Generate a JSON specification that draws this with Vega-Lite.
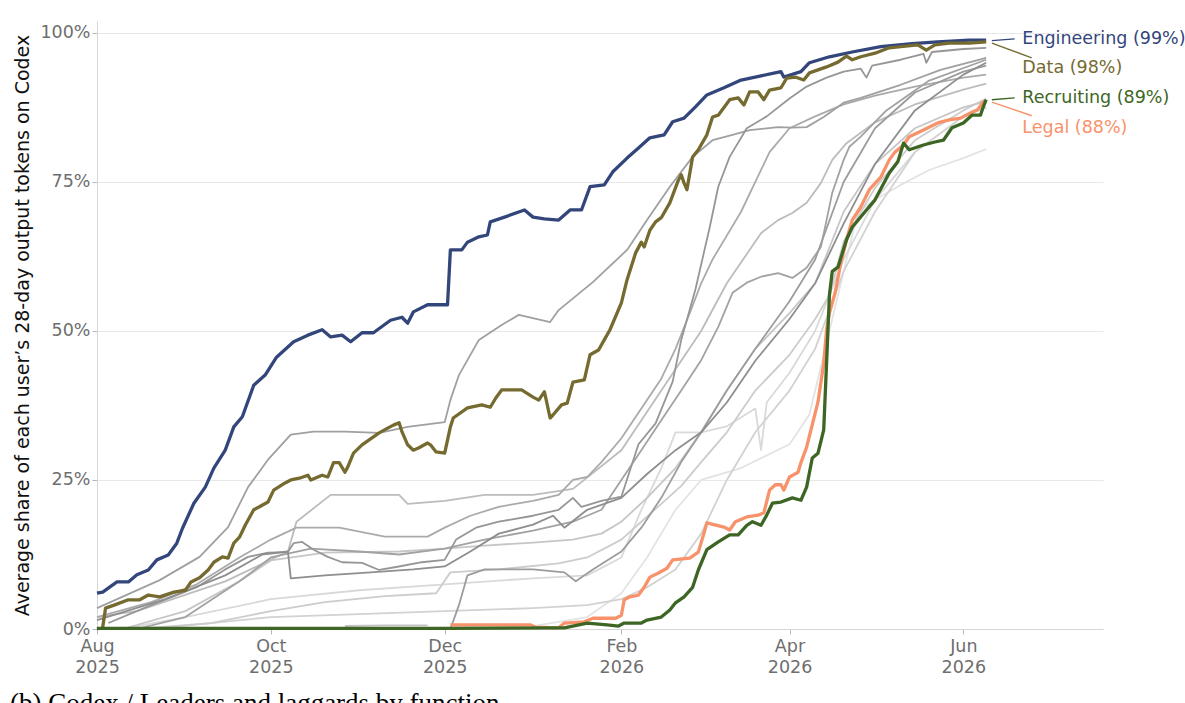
{
  "$schema": "https://vega.github.io/schema/vega-lite/v6.json",
  "autosize": "none",
  "width": 1006,
  "height": 608,
  "padding": {"left": 97, "top": 21, "right": 82, "bottom": 74},
  "background": "white",
  "title": {
    "text": "(b) Codex / Leaders and laggards by function",
    "orient": "bottom",
    "anchor": "start",
    "frame": "group",
    "dx": -87,
    "offset": 15,
    "baseline": "top",
    "font": "Liberation Serif",
    "fontSize": 27,
    "fontWeight": "normal",
    "color": "black"
  },
  "datasets": {
    "lines": [
      {"s":"g13","d":"2025-10-27","v":0.005},{"s":"g13","d":"2025-11-10","v":0.006},{"s":"g13","d":"2025-11-25","v":0.006},

      {"s":"g10","d":"2025-12-05","v":0.0},{"s":"g10","d":"2026-01-01","v":0.005},{"s":"g10","d":"2026-01-20","v":0.02},{"s":"g10","d":"2026-02-01","v":0.06},{"s":"g10","d":"2026-02-10","v":0.12},{"s":"g10","d":"2026-02-20","v":0.2},{"s":"g10","d":"2026-03-01","v":0.25},{"s":"g10","d":"2026-03-15","v":0.27},{"s":"g10","d":"2026-04-01","v":0.31},{"s":"g10","d":"2026-04-08","v":0.36},{"s":"g10","d":"2026-04-15","v":0.5},{"s":"g10","d":"2026-04-20","v":0.6},{"s":"g10","d":"2026-04-25","v":0.7},{"s":"g10","d":"2026-05-01","v":0.72},{"s":"g10","d":"2026-05-10","v":0.745},{"s":"g10","d":"2026-05-20","v":0.77},{"s":"g10","d":"2026-06-01","v":0.79},{"s":"g10","d":"2026-06-09","v":0.805},

      {"s":"g9","d":"2025-08-10","v":0.0},{"s":"g9","d":"2025-09-01","v":0.02},{"s":"g9","d":"2025-10-01","v":0.05},{"s":"g9","d":"2025-11-01","v":0.065},{"s":"g9","d":"2025-12-01","v":0.075},{"s":"g9","d":"2026-01-01","v":0.085},{"s":"g9","d":"2026-01-20","v":0.09},{"s":"g9","d":"2026-02-01","v":0.12},{"s":"g9","d":"2026-02-08","v":0.2},{"s":"g9","d":"2026-02-15","v":0.27},{"s":"g9","d":"2026-02-20","v":0.33},{"s":"g9","d":"2026-03-01","v":0.33},{"s":"g9","d":"2026-03-10","v":0.34},{"s":"g9","d":"2026-03-20","v":0.37},{"s":"g9","d":"2026-03-22","v":0.3},{"s":"g9","d":"2026-03-24","v":0.38},{"s":"g9","d":"2026-04-01","v":0.43},{"s":"g9","d":"2026-04-10","v":0.5},{"s":"g9","d":"2026-04-20","v":0.62},{"s":"g9","d":"2026-05-01","v":0.72},{"s":"g9","d":"2026-05-15","v":0.8},{"s":"g9","d":"2026-06-01","v":0.86},{"s":"g9","d":"2026-06-09","v":0.875},

      {"s":"g12","d":"2025-08-20","v":0.0},{"s":"g12","d":"2025-09-10","v":0.01},{"s":"g12","d":"2025-10-01","v":0.02},{"s":"g12","d":"2025-11-01","v":0.025},{"s":"g12","d":"2025-12-01","v":0.03},{"s":"g12","d":"2026-01-01","v":0.035},{"s":"g12","d":"2026-01-20","v":0.04},{"s":"g12","d":"2026-02-01","v":0.05},{"s":"g12","d":"2026-02-10","v":0.07},{"s":"g12","d":"2026-02-20","v":0.1},{"s":"g12","d":"2026-03-01","v":0.16},{"s":"g12","d":"2026-03-10","v":0.25},{"s":"g12","d":"2026-03-20","v":0.33},{"s":"g12","d":"2026-04-01","v":0.4},{"s":"g12","d":"2026-04-10","v":0.47},{"s":"g12","d":"2026-04-20","v":0.6},{"s":"g12","d":"2026-05-01","v":0.7},{"s":"g12","d":"2026-05-15","v":0.8},{"s":"g12","d":"2026-06-01","v":0.86},{"s":"g12","d":"2026-06-09","v":0.875},

      {"s":"g8","d":"2025-08-15","v":0.0},{"s":"g8","d":"2025-09-10","v":0.01},{"s":"g8","d":"2025-10-01","v":0.03},{"s":"g8","d":"2025-10-20","v":0.045},{"s":"g8","d":"2025-11-10","v":0.055},{"s":"g8","d":"2025-11-28","v":0.06},{"s":"g8","d":"2025-12-03","v":0.095},{"s":"g8","d":"2025-12-20","v":0.1},{"s":"g8","d":"2026-01-10","v":0.11},{"s":"g8","d":"2026-01-20","v":0.12},{"s":"g8","d":"2026-02-01","v":0.15},{"s":"g8","d":"2026-02-08","v":0.18},{"s":"g8","d":"2026-02-15","v":0.21},{"s":"g8","d":"2026-02-22","v":0.24},{"s":"g8","d":"2026-03-01","v":0.28},{"s":"g8","d":"2026-03-10","v":0.33},{"s":"g8","d":"2026-03-20","v":0.4},{"s":"g8","d":"2026-04-01","v":0.46},{"s":"g8","d":"2026-04-10","v":0.52},{"s":"g8","d":"2026-04-15","v":0.56},{"s":"g8","d":"2026-04-20","v":0.65},{"s":"g8","d":"2026-05-01","v":0.74},{"s":"g8","d":"2026-05-15","v":0.82},{"s":"g8","d":"2026-06-01","v":0.87},{"s":"g8","d":"2026-06-09","v":0.89},

      {"s":"g7","d":"2025-08-10","v":0.0},{"s":"g7","d":"2025-09-01","v":0.03},{"s":"g7","d":"2025-09-20","v":0.08},{"s":"g7","d":"2025-10-01","v":0.115},{"s":"g7","d":"2025-10-20","v":0.128},{"s":"g7","d":"2025-11-15","v":0.13},{"s":"g7","d":"2025-12-01","v":0.135},{"s":"g7","d":"2025-12-15","v":0.14},{"s":"g7","d":"2026-01-01","v":0.145},{"s":"g7","d":"2026-01-15","v":0.15},{"s":"g7","d":"2026-01-25","v":0.16},{"s":"g7","d":"2026-02-01","v":0.18},{"s":"g7","d":"2026-02-10","v":0.22},{"s":"g7","d":"2026-02-20","v":0.27},{"s":"g7","d":"2026-03-01","v":0.33},{"s":"g7","d":"2026-03-10","v":0.4},{"s":"g7","d":"2026-03-20","v":0.47},{"s":"g7","d":"2026-04-01","v":0.53},{"s":"g7","d":"2026-04-10","v":0.58},{"s":"g7","d":"2026-04-20","v":0.7},{"s":"g7","d":"2026-05-01","v":0.78},{"s":"g7","d":"2026-05-15","v":0.84},{"s":"g7","d":"2026-06-01","v":0.875},{"s":"g7","d":"2026-06-09","v":0.885},

      {"s":"g4","d":"2025-08-01","v":0.02},{"s":"g4","d":"2025-08-15","v":0.03},{"s":"g4","d":"2025-09-15","v":0.08},{"s":"g4","d":"2025-10-07","v":0.13},{"s":"g4","d":"2025-10-10","v":0.18},{"s":"g4","d":"2025-10-22","v":0.225},{"s":"g4","d":"2025-11-15","v":0.225},{"s":"g4","d":"2025-11-18","v":0.21},{"s":"g4","d":"2025-12-01","v":0.215},{"s":"g4","d":"2025-12-15","v":0.225},{"s":"g4","d":"2026-01-01","v":0.225},{"s":"g4","d":"2026-01-15","v":0.235},{"s":"g4","d":"2026-02-01","v":0.3},{"s":"g4","d":"2026-02-15","v":0.4},{"s":"g4","d":"2026-03-01","v":0.5},{"s":"g4","d":"2026-03-10","v":0.58},{"s":"g4","d":"2026-03-22","v":0.664},{"s":"g4","d":"2026-03-28","v":0.686},{"s":"g4","d":"2026-04-02","v":0.698},{"s":"g4","d":"2026-04-07","v":0.715},{"s":"g4","d":"2026-04-12","v":0.748},{"s":"g4","d":"2026-04-16","v":0.787},{"s":"g4","d":"2026-04-21","v":0.815},{"s":"g4","d":"2026-05-01","v":0.85},{"s":"g4","d":"2026-05-15","v":0.88},{"s":"g4","d":"2026-06-01","v":0.905},{"s":"g4","d":"2026-06-09","v":0.915},

      {"s":"g6","d":"2025-08-01","v":0.02},{"s":"g6","d":"2025-08-20","v":0.045},{"s":"g6","d":"2025-09-05","v":0.075},{"s":"g6","d":"2025-09-20","v":0.12},{"s":"g6","d":"2025-10-01","v":0.15},{"s":"g6","d":"2025-10-10","v":0.17},{"s":"g6","d":"2025-10-25","v":0.17},{"s":"g6","d":"2025-11-10","v":0.155},{"s":"g6","d":"2025-11-25","v":0.155},{"s":"g6","d":"2025-12-01","v":0.17},{"s":"g6","d":"2025-12-10","v":0.19},{"s":"g6","d":"2025-12-20","v":0.205},{"s":"g6","d":"2026-01-01","v":0.215},{"s":"g6","d":"2026-01-10","v":0.225},{"s":"g6","d":"2026-01-15","v":0.25},{"s":"g6","d":"2026-01-20","v":0.255},{"s":"g6","d":"2026-01-25","v":0.28},{"s":"g6","d":"2026-02-01","v":0.32},{"s":"g6","d":"2026-02-08","v":0.37},{"s":"g6","d":"2026-02-15","v":0.42},{"s":"g6","d":"2026-02-20","v":0.47},{"s":"g6","d":"2026-02-25","v":0.53},{"s":"g6","d":"2026-03-01","v":0.58},{"s":"g6","d":"2026-03-05","v":0.62},{"s":"g6","d":"2026-03-10","v":0.66},{"s":"g6","d":"2026-03-15","v":0.7},{"s":"g6","d":"2026-03-20","v":0.75},{"s":"g6","d":"2026-03-25","v":0.8},{"s":"g6","d":"2026-04-01","v":0.84},{"s":"g6","d":"2026-04-10","v":0.86},{"s":"g6","d":"2026-04-20","v":0.88},{"s":"g6","d":"2026-05-01","v":0.895},{"s":"g6","d":"2026-05-15","v":0.91},{"s":"g6","d":"2026-06-01","v":0.925},{"s":"g6","d":"2026-06-09","v":0.93},

      {"s":"g3","d":"2025-08-15","v":0.0},{"s":"g3","d":"2025-09-01","v":0.02},{"s":"g3","d":"2025-09-20","v":0.08},{"s":"g3","d":"2025-10-01","v":0.12},{"s":"g3","d":"2025-10-15","v":0.135},{"s":"g3","d":"2025-11-01","v":0.13},{"s":"g3","d":"2025-11-15","v":0.125},{"s":"g3","d":"2025-12-01","v":0.135},{"s":"g3","d":"2025-12-15","v":0.15},{"s":"g3","d":"2026-01-01","v":0.165},{"s":"g3","d":"2026-01-15","v":0.18},{"s":"g3","d":"2026-01-25","v":0.2},{"s":"g3","d":"2026-02-01","v":0.25},{"s":"g3","d":"2026-02-08","v":0.3},{"s":"g3","d":"2026-02-15","v":0.35},{"s":"g3","d":"2026-02-22","v":0.4},{"s":"g3","d":"2026-03-01","v":0.451},{"s":"g3","d":"2026-03-07","v":0.507},{"s":"g3","d":"2026-03-12","v":0.564},{"s":"g3","d":"2026-03-17","v":0.581},{"s":"g3","d":"2026-03-22","v":0.591},{"s":"g3","d":"2026-03-28","v":0.597},{"s":"g3","d":"2026-04-02","v":0.589},{"s":"g3","d":"2026-04-07","v":0.606},{"s":"g3","d":"2026-04-12","v":0.641},{"s":"g3","d":"2026-04-14","v":0.686},{"s":"g3","d":"2026-04-16","v":0.732},{"s":"g3","d":"2026-04-20","v":0.787},{"s":"g3","d":"2026-04-22","v":0.809},{"s":"g3","d":"2026-04-26","v":0.826},{"s":"g3","d":"2026-05-05","v":0.87},{"s":"g3","d":"2026-05-20","v":0.92},{"s":"g3","d":"2026-06-09","v":0.955},

      {"s":"g1","d":"2025-08-01","v":0.035},{"s":"g1","d":"2025-08-23","v":0.082},{"s":"g1","d":"2025-09-06","v":0.121},{"s":"g1","d":"2025-09-16","v":0.171},{"s":"g1","d":"2025-09-23","v":0.238},{"s":"g1","d":"2025-09-30","v":0.284},{"s":"g1","d":"2025-10-08","v":0.326},{"s":"g1","d":"2025-10-16","v":0.331},{"s":"g1","d":"2025-10-27","v":0.331},{"s":"g1","d":"2025-11-08","v":0.329},{"s":"g1","d":"2025-11-18","v":0.339},{"s":"g1","d":"2025-12-01","v":0.347},{"s":"g1","d":"2025-12-03","v":0.384},{"s":"g1","d":"2025-12-06","v":0.426},{"s":"g1","d":"2025-12-13","v":0.485},{"s":"g1","d":"2025-12-21","v":0.51},{"s":"g1","d":"2025-12-27","v":0.527},{"s":"g1","d":"2026-01-07","v":0.515},{"s":"g1","d":"2026-01-10","v":0.535},{"s":"g1","d":"2026-01-22","v":0.582},{"s":"g1","d":"2026-02-03","v":0.636},{"s":"g1","d":"2026-02-10","v":0.686},{"s":"g1","d":"2026-02-18","v":0.742},{"s":"g1","d":"2026-02-26","v":0.792},{"s":"g1","d":"2026-03-05","v":0.82},{"s":"g1","d":"2026-03-12","v":0.829},{"s":"g1","d":"2026-03-18","v":0.837},{"s":"g1","d":"2026-03-28","v":0.842},{"s":"g1","d":"2026-04-02","v":0.841},{"s":"g1","d":"2026-04-07","v":0.842},{"s":"g1","d":"2026-04-13","v":0.859},{"s":"g1","d":"2026-04-20","v":0.883},{"s":"g1","d":"2026-04-26","v":0.891},{"s":"g1","d":"2026-05-10","v":0.913},{"s":"g1","d":"2026-05-24","v":0.938},{"s":"g1","d":"2026-06-09","v":0.958},

      {"s":"g11","d":"2025-12-03","v":0.0},{"s":"g11","d":"2025-12-06","v":0.04},{"s":"g11","d":"2025-12-09","v":0.09},{"s":"g11","d":"2025-12-15","v":0.1},{"s":"g11","d":"2026-01-01","v":0.1},{"s":"g11","d":"2026-01-12","v":0.095},{"s":"g11","d":"2026-01-16","v":0.08},{"s":"g11","d":"2026-01-22","v":0.1},{"s":"g11","d":"2026-02-01","v":0.13},{"s":"g11","d":"2026-02-08","v":0.17},{"s":"g11","d":"2026-02-15","v":0.22},{"s":"g11","d":"2026-02-22","v":0.28},{"s":"g11","d":"2026-03-01","v":0.33},{"s":"g11","d":"2026-03-10","v":0.4},{"s":"g11","d":"2026-03-20","v":0.47},{"s":"g11","d":"2026-04-01","v":0.55},{"s":"g11","d":"2026-04-10","v":0.62},{"s":"g11","d":"2026-04-20","v":0.75},{"s":"g11","d":"2026-05-01","v":0.84},{"s":"g11","d":"2026-05-15","v":0.9},{"s":"g11","d":"2026-06-01","v":0.935},{"s":"g11","d":"2026-06-09","v":0.945},

      {"s":"g2","d":"2025-08-05","v":0.01},{"s":"g2","d":"2025-08-20","v":0.04},{"s":"g2","d":"2025-09-05","v":0.07},{"s":"g2","d":"2025-09-15","v":0.1},{"s":"g2","d":"2025-09-23","v":0.121},{"s":"g2","d":"2025-09-30","v":0.128},{"s":"g2","d":"2025-10-07","v":0.129},{"s":"g2","d":"2025-10-09","v":0.144},{"s":"g2","d":"2025-10-12","v":0.146},{"s":"g2","d":"2025-10-16","v":0.133},{"s":"g2","d":"2025-10-21","v":0.121},{"s":"g2","d":"2025-10-26","v":0.112},{"s":"g2","d":"2025-11-02","v":0.111},{"s":"g2","d":"2025-11-08","v":0.099},{"s":"g2","d":"2025-11-14","v":0.104},{"s":"g2","d":"2025-11-23","v":0.112},{"s":"g2","d":"2025-12-01","v":0.116},{"s":"g2","d":"2025-12-05","v":0.15},{"s":"g2","d":"2025-12-12","v":0.17},{"s":"g2","d":"2025-12-20","v":0.18},{"s":"g2","d":"2026-01-01","v":0.19},{"s":"g2","d":"2026-01-10","v":0.2},{"s":"g2","d":"2026-01-15","v":0.22},{"s":"g2","d":"2026-01-18","v":0.205},{"s":"g2","d":"2026-01-25","v":0.215},{"s":"g2","d":"2026-02-01","v":0.222},{"s":"g2","d":"2026-02-07","v":0.31},{"s":"g2","d":"2026-02-13","v":0.345},{"s":"g2","d":"2026-02-19","v":0.415},{"s":"g2","d":"2026-02-22","v":0.485},{"s":"g2","d":"2026-02-27","v":0.57},{"s":"g2","d":"2026-03-04","v":0.674},{"s":"g2","d":"2026-03-07","v":0.742},{"s":"g2","d":"2026-03-11","v":0.792},{"s":"g2","d":"2026-03-17","v":0.84},{"s":"g2","d":"2026-03-24","v":0.86},{"s":"g2","d":"2026-04-01","v":0.89},{"s":"g2","d":"2026-04-07","v":0.91},{"s":"g2","d":"2026-04-14","v":0.925},{"s":"g2","d":"2026-04-20","v":0.935},{"s":"g2","d":"2026-04-26","v":0.94},{"s":"g2","d":"2026-04-28","v":0.925},{"s":"g2","d":"2026-04-30","v":0.945},{"s":"g2","d":"2026-05-10","v":0.955},{"s":"g2","d":"2026-05-18","v":0.965},{"s":"g2","d":"2026-05-19","v":0.95},{"s":"g2","d":"2026-05-21","v":0.968},{"s":"g2","d":"2026-06-01","v":0.973},{"s":"g2","d":"2026-06-09","v":0.975},

      {"s":"g5","d":"2025-08-01","v":0.015},{"s":"g5","d":"2025-08-25","v":0.05},{"s":"g5","d":"2025-09-15","v":0.09},{"s":"g5","d":"2025-09-28","v":0.125},{"s":"g5","d":"2025-10-07","v":0.13},{"s":"g5","d":"2025-10-08","v":0.085},{"s":"g5","d":"2025-10-20","v":0.09},{"s":"g5","d":"2025-11-05","v":0.095},{"s":"g5","d":"2025-11-20","v":0.1},{"s":"g5","d":"2025-12-01","v":0.105},{"s":"g5","d":"2025-12-10","v":0.13},{"s":"g5","d":"2025-12-20","v":0.16},{"s":"g5","d":"2026-01-01","v":0.175},{"s":"g5","d":"2026-01-08","v":0.19},{"s":"g5","d":"2026-01-12","v":0.17},{"s":"g5","d":"2026-01-20","v":0.2},{"s":"g5","d":"2026-02-01","v":0.22},{"s":"g5","d":"2026-02-10","v":0.26},{"s":"g5","d":"2026-02-20","v":0.3},{"s":"g5","d":"2026-03-01","v":0.33},{"s":"g5","d":"2026-03-10","v":0.38},{"s":"g5","d":"2026-03-20","v":0.45},{"s":"g5","d":"2026-04-01","v":0.52},{"s":"g5","d":"2026-04-10","v":0.58},{"s":"g5","d":"2026-04-20","v":0.68},{"s":"g5","d":"2026-05-01","v":0.78},{"s":"g5","d":"2026-05-15","v":0.87},{"s":"g5","d":"2026-06-01","v":0.93},{"s":"g5","d":"2026-06-09","v":0.95},

      {"s":"Engineering","d":"2025-08-01","v":0.06},{"s":"Engineering","d":"2025-08-03","v":0.062},{"s":"Engineering","d":"2025-08-08","v":0.079},{"s":"Engineering","d":"2025-08-12","v":0.079},{"s":"Engineering","d":"2025-08-15","v":0.091},{"s":"Engineering","d":"2025-08-19","v":0.099},{"s":"Engineering","d":"2025-08-22","v":0.116},{"s":"Engineering","d":"2025-08-26","v":0.124},{"s":"Engineering","d":"2025-08-29","v":0.144},{"s":"Engineering","d":"2025-08-31","v":0.169},{"s":"Engineering","d":"2025-09-04","v":0.211},{"s":"Engineering","d":"2025-09-08","v":0.238},{"s":"Engineering","d":"2025-09-11","v":0.27},{"s":"Engineering","d":"2025-09-15","v":0.3},{"s":"Engineering","d":"2025-09-18","v":0.339},{"s":"Engineering","d":"2025-09-21","v":0.356},{"s":"Engineering","d":"2025-09-25","v":0.409},{"s":"Engineering","d":"2025-09-29","v":0.426},{"s":"Engineering","d":"2025-10-03","v":0.456},{"s":"Engineering","d":"2025-10-09","v":0.482},{"s":"Engineering","d":"2025-10-14","v":0.493},{"s":"Engineering","d":"2025-10-19","v":0.502},{"s":"Engineering","d":"2025-10-22","v":0.49},{"s":"Engineering","d":"2025-10-26","v":0.493},{"s":"Engineering","d":"2025-10-29","v":0.482},{"s":"Engineering","d":"2025-11-02","v":0.497},{"s":"Engineering","d":"2025-11-06","v":0.497},{"s":"Engineering","d":"2025-11-12","v":0.518},{"s":"Engineering","d":"2025-11-16","v":0.523},{"s":"Engineering","d":"2025-11-18","v":0.513},{"s":"Engineering","d":"2025-11-20","v":0.532},{"s":"Engineering","d":"2025-11-25","v":0.544},{"s":"Engineering","d":"2025-12-02","v":0.544},{"s":"Engineering","d":"2025-12-03","v":0.636},{"s":"Engineering","d":"2025-12-07","v":0.636},{"s":"Engineering","d":"2025-12-09","v":0.649},{"s":"Engineering","d":"2025-12-13","v":0.658},{"s":"Engineering","d":"2025-12-16","v":0.661},{"s":"Engineering","d":"2025-12-17","v":0.683},{"s":"Engineering","d":"2025-12-22","v":0.691},{"s":"Engineering","d":"2025-12-29","v":0.703},{"s":"Engineering","d":"2026-01-01","v":0.691},{"s":"Engineering","d":"2026-01-05","v":0.688},{"s":"Engineering","d":"2026-01-10","v":0.686},{"s":"Engineering","d":"2026-01-14","v":0.703},{"s":"Engineering","d":"2026-01-18","v":0.703},{"s":"Engineering","d":"2026-01-21","v":0.742},{"s":"Engineering","d":"2026-01-26","v":0.745},{"s":"Engineering","d":"2026-01-29","v":0.767},{"s":"Engineering","d":"2026-02-03","v":0.79},{"s":"Engineering","d":"2026-02-07","v":0.807},{"s":"Engineering","d":"2026-02-11","v":0.824},{"s":"Engineering","d":"2026-02-16","v":0.829},{"s":"Engineering","d":"2026-02-19","v":0.851},{"s":"Engineering","d":"2026-02-23","v":0.857},{"s":"Engineering","d":"2026-02-27","v":0.876},{"s":"Engineering","d":"2026-03-03","v":0.896},{"s":"Engineering","d":"2026-03-09","v":0.908},{"s":"Engineering","d":"2026-03-15","v":0.921},{"s":"Engineering","d":"2026-03-22","v":0.928},{"s":"Engineering","d":"2026-03-29","v":0.935},{"s":"Engineering","d":"2026-03-30","v":0.926},{"s":"Engineering","d":"2026-04-05","v":0.935},{"s":"Engineering","d":"2026-04-08","v":0.95},{"s":"Engineering","d":"2026-04-15","v":0.96},{"s":"Engineering","d":"2026-04-23","v":0.968},{"s":"Engineering","d":"2026-05-03","v":0.977},{"s":"Engineering","d":"2026-05-14","v":0.982},{"s":"Engineering","d":"2026-05-23","v":0.985},{"s":"Engineering","d":"2026-06-03","v":0.988},{"s":"Engineering","d":"2026-06-09","v":0.988},

      {"s":"Data","d":"2025-08-01","v":0.0},{"s":"Data","d":"2025-08-03","v":0.003},{"s":"Data","d":"2025-08-04","v":0.035},{"s":"Data","d":"2025-08-07","v":0.04},{"s":"Data","d":"2025-08-12","v":0.049},{"s":"Data","d":"2025-08-16","v":0.049},{"s":"Data","d":"2025-08-19","v":0.057},{"s":"Data","d":"2025-08-23","v":0.054},{"s":"Data","d":"2025-08-28","v":0.062},{"s":"Data","d":"2025-09-01","v":0.065},{"s":"Data","d":"2025-09-03","v":0.079},{"s":"Data","d":"2025-09-06","v":0.086},{"s":"Data","d":"2025-09-09","v":0.099},{"s":"Data","d":"2025-09-11","v":0.112},{"s":"Data","d":"2025-09-14","v":0.121},{"s":"Data","d":"2025-09-16","v":0.119},{"s":"Data","d":"2025-09-18","v":0.144},{"s":"Data","d":"2025-09-20","v":0.154},{"s":"Data","d":"2025-09-22","v":0.174},{"s":"Data","d":"2025-09-25","v":0.2},{"s":"Data","d":"2025-09-27","v":0.205},{"s":"Data","d":"2025-09-30","v":0.213},{"s":"Data","d":"2025-10-02","v":0.233},{"s":"Data","d":"2025-10-06","v":0.245},{"s":"Data","d":"2025-10-08","v":0.25},{"s":"Data","d":"2025-10-11","v":0.253},{"s":"Data","d":"2025-10-14","v":0.258},{"s":"Data","d":"2025-10-15","v":0.25},{"s":"Data","d":"2025-10-19","v":0.258},{"s":"Data","d":"2025-10-21","v":0.255},{"s":"Data","d":"2025-10-23","v":0.279},{"s":"Data","d":"2025-10-25","v":0.279},{"s":"Data","d":"2025-10-27","v":0.263},{"s":"Data","d":"2025-10-28","v":0.272},{"s":"Data","d":"2025-10-30","v":0.295},{"s":"Data","d":"2025-11-02","v":0.309},{"s":"Data","d":"2025-11-05","v":0.319},{"s":"Data","d":"2025-11-08","v":0.329},{"s":"Data","d":"2025-11-11","v":0.337},{"s":"Data","d":"2025-11-13","v":0.342},{"s":"Data","d":"2025-11-15","v":0.346},{"s":"Data","d":"2025-11-16","v":0.331},{"s":"Data","d":"2025-11-18","v":0.309},{"s":"Data","d":"2025-11-20","v":0.3},{"s":"Data","d":"2025-11-22","v":0.304},{"s":"Data","d":"2025-11-25","v":0.312},{"s":"Data","d":"2025-11-26","v":0.309},{"s":"Data","d":"2025-11-28","v":0.297},{"s":"Data","d":"2025-12-01","v":0.295},{"s":"Data","d":"2025-12-03","v":0.339},{"s":"Data","d":"2025-12-04","v":0.354},{"s":"Data","d":"2025-12-09","v":0.371},{"s":"Data","d":"2025-12-14","v":0.376},{"s":"Data","d":"2025-12-17","v":0.372},{"s":"Data","d":"2025-12-19","v":0.388},{"s":"Data","d":"2025-12-21","v":0.401},{"s":"Data","d":"2025-12-28","v":0.401},{"s":"Data","d":"2026-01-01","v":0.389},{"s":"Data","d":"2026-01-03","v":0.384},{"s":"Data","d":"2026-01-05","v":0.398},{"s":"Data","d":"2026-01-07","v":0.354},{"s":"Data","d":"2026-01-08","v":0.359},{"s":"Data","d":"2026-01-11","v":0.376},{"s":"Data","d":"2026-01-13","v":0.379},{"s":"Data","d":"2026-01-15","v":0.414},{"s":"Data","d":"2026-01-19","v":0.418},{"s":"Data","d":"2026-01-21","v":0.46},{"s":"Data","d":"2026-01-24","v":0.468},{"s":"Data","d":"2026-01-26","v":0.485},{"s":"Data","d":"2026-01-28","v":0.502},{"s":"Data","d":"2026-02-01","v":0.547},{"s":"Data","d":"2026-02-03","v":0.586},{"s":"Data","d":"2026-02-06","v":0.631},{"s":"Data","d":"2026-02-08","v":0.649},{"s":"Data","d":"2026-02-09","v":0.641},{"s":"Data","d":"2026-02-11","v":0.669},{"s":"Data","d":"2026-02-13","v":0.683},{"s":"Data","d":"2026-02-15","v":0.69},{"s":"Data","d":"2026-02-18","v":0.715},{"s":"Data","d":"2026-02-21","v":0.753},{"s":"Data","d":"2026-02-22","v":0.762},{"s":"Data","d":"2026-02-23","v":0.748},{"s":"Data","d":"2026-02-24","v":0.737},{"s":"Data","d":"2026-02-26","v":0.792},{"s":"Data","d":"2026-02-28","v":0.804},{"s":"Data","d":"2026-03-03","v":0.829},{"s":"Data","d":"2026-03-05","v":0.859},{"s":"Data","d":"2026-03-07","v":0.862},{"s":"Data","d":"2026-03-11","v":0.888},{"s":"Data","d":"2026-03-14","v":0.891},{"s":"Data","d":"2026-03-16","v":0.879},{"s":"Data","d":"2026-03-18","v":0.901},{"s":"Data","d":"2026-03-21","v":0.901},{"s":"Data","d":"2026-03-23","v":0.888},{"s":"Data","d":"2026-03-25","v":0.904},{"s":"Data","d":"2026-03-29","v":0.908},{"s":"Data","d":"2026-03-31","v":0.924},{"s":"Data","d":"2026-04-03","v":0.926},{"s":"Data","d":"2026-04-06","v":0.921},{"s":"Data","d":"2026-04-08","v":0.933},{"s":"Data","d":"2026-04-14","v":0.943},{"s":"Data","d":"2026-04-18","v":0.951},{"s":"Data","d":"2026-04-21","v":0.961},{"s":"Data","d":"2026-04-23","v":0.955},{"s":"Data","d":"2026-04-26","v":0.96},{"s":"Data","d":"2026-05-01","v":0.966},{"s":"Data","d":"2026-05-06","v":0.975},{"s":"Data","d":"2026-05-10","v":0.977},{"s":"Data","d":"2026-05-16","v":0.98},{"s":"Data","d":"2026-05-19","v":0.971},{"s":"Data","d":"2026-05-22","v":0.98},{"s":"Data","d":"2026-05-27","v":0.983},{"s":"Data","d":"2026-06-03","v":0.983},{"s":"Data","d":"2026-06-09","v":0.985},

      {"s":"Legal","d":"2025-12-03","v":0.007},{"s":"Legal","d":"2025-12-31","v":0.007},{"s":"Legal","d":"2026-01-02","v":0.003},{"s":"Legal","d":"2026-01-10","v":0.002},{"s":"Legal","d":"2026-01-12","v":0.01},{"s":"Legal","d":"2026-01-19","v":0.012},{"s":"Legal","d":"2026-01-22","v":0.018},{"s":"Legal","d":"2026-01-30","v":0.018},{"s":"Legal","d":"2026-02-01","v":0.023},{"s":"Legal","d":"2026-02-02","v":0.049},{"s":"Legal","d":"2026-02-04","v":0.054},{"s":"Legal","d":"2026-02-07","v":0.057},{"s":"Legal","d":"2026-02-09","v":0.07},{"s":"Legal","d":"2026-02-11","v":0.087},{"s":"Legal","d":"2026-02-14","v":0.094},{"s":"Legal","d":"2026-02-17","v":0.102},{"s":"Legal","d":"2026-02-19","v":0.116},{"s":"Legal","d":"2026-02-25","v":0.119},{"s":"Legal","d":"2026-02-28","v":0.129},{"s":"Legal","d":"2026-03-02","v":0.161},{"s":"Legal","d":"2026-03-03","v":0.178},{"s":"Legal","d":"2026-03-09","v":0.171},{"s":"Legal","d":"2026-03-11","v":0.166},{"s":"Legal","d":"2026-03-13","v":0.18},{"s":"Legal","d":"2026-03-17","v":0.188},{"s":"Legal","d":"2026-03-21","v":0.191},{"s":"Legal","d":"2026-03-23","v":0.195},{"s":"Legal","d":"2026-03-25","v":0.233},{"s":"Legal","d":"2026-03-27","v":0.242},{"s":"Legal","d":"2026-03-29","v":0.242},{"s":"Legal","d":"2026-03-30","v":0.233},{"s":"Legal","d":"2026-04-01","v":0.255},{"s":"Legal","d":"2026-04-04","v":0.263},{"s":"Legal","d":"2026-04-05","v":0.279},{"s":"Legal","d":"2026-04-07","v":0.305},{"s":"Legal","d":"2026-04-11","v":0.381},{"s":"Legal","d":"2026-04-13","v":0.446},{"s":"Legal","d":"2026-04-14","v":0.502},{"s":"Legal","d":"2026-04-15","v":0.53},{"s":"Legal","d":"2026-04-17","v":0.564},{"s":"Legal","d":"2026-04-19","v":0.614},{"s":"Legal","d":"2026-04-21","v":0.653},{"s":"Legal","d":"2026-04-23","v":0.686},{"s":"Legal","d":"2026-04-26","v":0.708},{"s":"Legal","d":"2026-04-29","v":0.737},{"s":"Legal","d":"2026-05-03","v":0.758},{"s":"Legal","d":"2026-05-06","v":0.787},{"s":"Legal","d":"2026-05-08","v":0.8},{"s":"Legal","d":"2026-05-11","v":0.812},{"s":"Legal","d":"2026-05-13","v":0.826},{"s":"Legal","d":"2026-05-18","v":0.837},{"s":"Legal","d":"2026-05-23","v":0.849},{"s":"Legal","d":"2026-05-27","v":0.854},{"s":"Legal","d":"2026-05-31","v":0.857},{"s":"Legal","d":"2026-06-04","v":0.867},{"s":"Legal","d":"2026-06-06","v":0.871},{"s":"Legal","d":"2026-06-08","v":0.884},{"s":"Legal","d":"2026-06-09","v":0.886},

      {"s":"Recruiting","d":"2025-08-01","v":0.001},{"s":"Recruiting","d":"2025-10-01","v":0.001},{"s":"Recruiting","d":"2025-12-01","v":0.001},{"s":"Recruiting","d":"2026-01-10","v":0.002},{"s":"Recruiting","d":"2026-01-12","v":0.002},{"s":"Recruiting","d":"2026-01-20","v":0.01},{"s":"Recruiting","d":"2026-01-27","v":0.007},{"s":"Recruiting","d":"2026-01-31","v":0.005},{"s":"Recruiting","d":"2026-02-02","v":0.01},{"s":"Recruiting","d":"2026-02-08","v":0.01},{"s":"Recruiting","d":"2026-02-10","v":0.015},{"s":"Recruiting","d":"2026-02-15","v":0.02},{"s":"Recruiting","d":"2026-02-18","v":0.032},{"s":"Recruiting","d":"2026-02-20","v":0.044},{"s":"Recruiting","d":"2026-02-23","v":0.054},{"s":"Recruiting","d":"2026-02-26","v":0.07},{"s":"Recruiting","d":"2026-02-28","v":0.099},{"s":"Recruiting","d":"2026-03-03","v":0.133},{"s":"Recruiting","d":"2026-03-07","v":0.146},{"s":"Recruiting","d":"2026-03-11","v":0.158},{"s":"Recruiting","d":"2026-03-14","v":0.158},{"s":"Recruiting","d":"2026-03-17","v":0.174},{"s":"Recruiting","d":"2026-03-19","v":0.18},{"s":"Recruiting","d":"2026-03-22","v":0.174},{"s":"Recruiting","d":"2026-03-24","v":0.191},{"s":"Recruiting","d":"2026-03-26","v":0.211},{"s":"Recruiting","d":"2026-03-29","v":0.213},{"s":"Recruiting","d":"2026-04-02","v":0.22},{"s":"Recruiting","d":"2026-04-05","v":0.216},{"s":"Recruiting","d":"2026-04-07","v":0.238},{"s":"Recruiting","d":"2026-04-09","v":0.287},{"s":"Recruiting","d":"2026-04-11","v":0.295},{"s":"Recruiting","d":"2026-04-13","v":0.334},{"s":"Recruiting","d":"2026-04-14","v":0.446},{"s":"Recruiting","d":"2026-04-15","v":0.56},{"s":"Recruiting","d":"2026-04-16","v":0.6},{"s":"Recruiting","d":"2026-04-18","v":0.607},{"s":"Recruiting","d":"2026-04-21","v":0.653},{"s":"Recruiting","d":"2026-04-23","v":0.674},{"s":"Recruiting","d":"2026-04-28","v":0.703},{"s":"Recruiting","d":"2026-05-01","v":0.72},{"s":"Recruiting","d":"2026-05-06","v":0.765},{"s":"Recruiting","d":"2026-05-09","v":0.784},{"s":"Recruiting","d":"2026-05-11","v":0.815},{"s":"Recruiting","d":"2026-05-13","v":0.804},{"s":"Recruiting","d":"2026-05-18","v":0.812},{"s":"Recruiting","d":"2026-05-22","v":0.817},{"s":"Recruiting","d":"2026-05-25","v":0.82},{"s":"Recruiting","d":"2026-05-28","v":0.841},{"s":"Recruiting","d":"2026-06-01","v":0.849},{"s":"Recruiting","d":"2026-06-04","v":0.862},{"s":"Recruiting","d":"2026-06-07","v":0.862},{"s":"Recruiting","d":"2026-06-08","v":0.876},{"s":"Recruiting","d":"2026-06-09","v":0.888}
    ],
    "labels": [
      {"s":"Engineering","label":"Engineering (99%)","cd":"2026-06-11","cv":0.987,"ed":"2026-06-19","ev":0.99,"td":"2026-06-21","tv":0.99},
      {"s":"Data","label":"Data (98%)","cd":"2026-06-11","cv":0.983,"ed":"2026-06-25","ev":0.958,"td":"2026-06-21","tv":0.941},
      {"s":"Recruiting","label":"Recruiting (89%)","cd":"2026-06-11","cv":0.888,"ed":"2026-06-19","ev":0.891,"td":"2026-06-21","tv":0.891},
      {"s":"Legal","label":"Legal (88%)","cd":"2026-06-11","cv":0.884,"ed":"2026-06-25","ev":0.861,"td":"2026-06-21","tv":0.841}
    ]
  },
  "layer": [
    {
      "data": {"name": "lines"},
      "transform": [{"filter": {"not": {"field": "s", "oneOf": ["Engineering", "Data", "Recruiting", "Legal"]}}}],
      "mark": {"type": "line", "strokeWidth": 1.8, "strokeJoin": "round"},
      "encoding": {
        "x": {
          "field": "d",
          "type": "temporal",
          "scale": {"type": "utc", "domain": [{"year": 2025, "month": 8, "date": 1, "utc": true}, {"year": 2026, "month": 7, "date": 20, "utc": true}]},
          "axis": {
            "title": null,
            "grid": false,
            "values": [
              {"year": 2025, "month": 8, "date": 1, "utc": true},
              {"year": 2025, "month": 10, "date": 1, "utc": true},
              {"year": 2025, "month": 12, "date": 1, "utc": true},
              {"year": 2026, "month": 2, "date": 1, "utc": true},
              {"year": 2026, "month": 4, "date": 1, "utc": true},
              {"year": 2026, "month": 6, "date": 1, "utc": true}
            ],
            "labelExpr": "[utcFormat(datum.value, '%b'), utcFormat(datum.value, '%Y')]",
            "labelFlush": false,
            "labelOverlap": false,
            "labelLineHeight": 21,
            "labelPadding": 3
          }
        },
        "y": {
          "field": "v",
          "type": "quantitative",
          "scale": {"domain": [0, 1.02], "nice": false},
          "axis": {
            "title": "Average share of each user’s 28-day output tokens on Codex",
            "values": [0, 0.25, 0.5, 0.75, 1],
            "format": ".0%",
            "grid": true,
            "titlePadding": 7
          }
        },
        "color": {
          "field": "s",
          "type": "nominal",
          "legend": null,
          "scale": {
            "domain": ["g13", "g10", "g9", "g12", "g8", "g7", "g4", "g6", "g3", "g1", "g11", "g2", "g5", "Engineering", "Data", "Recruiting", "Legal"],
            "range": ["#c4c4c4", "#e3e3e3", "#d9d9d9", "#d2d2d2", "#cccccc", "#c6c6c6", "#bcbcbc", "#aaaaaa", "#a2a2a2", "#a0a0a0", "#9c9c9c", "#969696", "#8e8e8e", "#33467c", "#756a2f", "#3d6624", "#f8926a"]
          }
        }
      }
    },
    {
      "data": {"name": "lines"},
      "transform": [{"filter": {"field": "s", "equal": "Engineering"}}],
      "mark": {"type": "line", "strokeWidth": 3.3, "strokeJoin": "round"},
      "encoding": {
        "x": {"field": "d", "type": "temporal"},
        "y": {"field": "v", "type": "quantitative"},
        "color": {"field": "s", "type": "nominal"}
      }
    },
    {
      "data": {"name": "lines"},
      "transform": [{"filter": {"field": "s", "equal": "Data"}}],
      "mark": {"type": "line", "strokeWidth": 3.3, "strokeJoin": "round"},
      "encoding": {
        "x": {"field": "d", "type": "temporal"},
        "y": {"field": "v", "type": "quantitative"},
        "color": {"field": "s", "type": "nominal"}
      }
    },
    {
      "data": {"name": "lines"},
      "transform": [{"filter": {"field": "s", "equal": "Legal"}}],
      "mark": {"type": "line", "strokeWidth": 3.3, "strokeJoin": "round"},
      "encoding": {
        "x": {"field": "d", "type": "temporal"},
        "y": {"field": "v", "type": "quantitative"},
        "color": {"field": "s", "type": "nominal"}
      }
    },
    {
      "data": {"name": "lines"},
      "transform": [{"filter": {"field": "s", "equal": "Recruiting"}}],
      "mark": {"type": "line", "strokeWidth": 3.3, "strokeJoin": "round"},
      "encoding": {
        "x": {"field": "d", "type": "temporal"},
        "y": {"field": "v", "type": "quantitative"},
        "color": {"field": "s", "type": "nominal"}
      }
    },
    {
      "data": {"name": "labels"},
      "mark": {"type": "rule", "strokeWidth": 1.4},
      "encoding": {
        "x": {"field": "cd", "type": "temporal"},
        "x2": {"field": "ed"},
        "y": {"field": "cv", "type": "quantitative"},
        "y2": {"field": "ev"},
        "color": {"field": "s", "type": "nominal"}
      }
    },
    {
      "data": {"name": "labels"},
      "mark": {"type": "text", "align": "left", "baseline": "middle", "dx": 2, "font": "DejaVu Sans", "fontSize": 17.5},
      "encoding": {
        "x": {"field": "td", "type": "temporal"},
        "y": {"field": "tv", "type": "quantitative"},
        "text": {"field": "label"},
        "color": {"field": "s", "type": "nominal"}
      }
    }
  ],
  "config": {
    "view": {"stroke": null},
    "axis": {
      "labelFont": "DejaVu Sans",
      "labelFontSize": 17.5,
      "labelColor": "#6e6e6e",
      "titleFont": "DejaVu Sans",
      "titleFontSize": 19,
      "titleFontWeight": "normal",
      "titleColor": "#111111",
      "domainColor": "#d6d6d6",
      "tickColor": "#b8b8b8",
      "tickSize": 5,
      "gridColor": "#e8e8e8",
      "gridWidth": 1
    }
  }
}
